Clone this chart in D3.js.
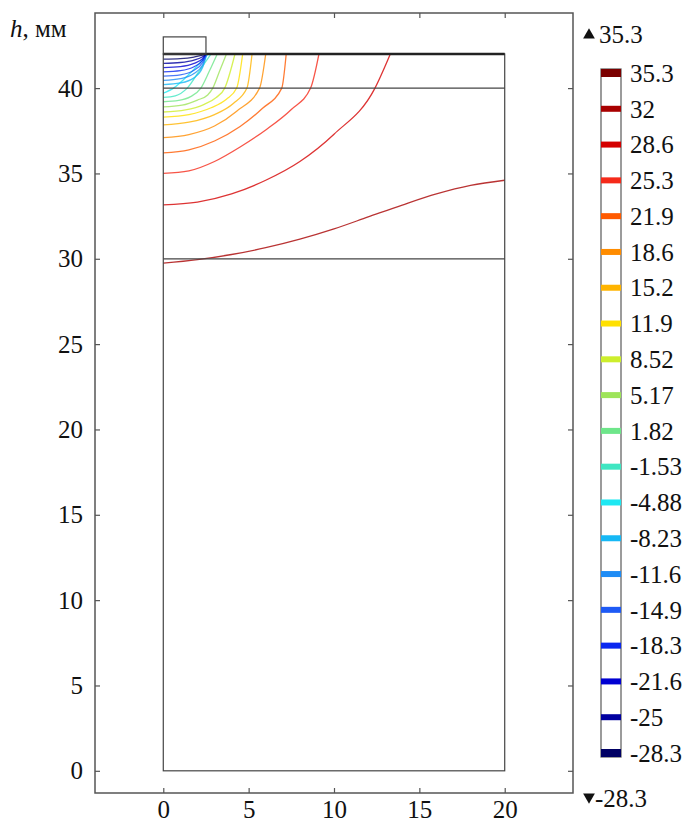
<!DOCTYPE html>
<html>
<head>
<meta charset="utf-8">
<script src="https://cdn.jsdelivr.net/npm/d3@7"></script>
<style>
  body { margin: 0; background: #fff; }
  svg { display: block; }
  svg text { font-family: 'Liberation Serif', 'Times New Roman', Times, 'DejaVu Serif', serif; fill: #111; }
</style>
</head>
<body>
<svg id="chart" width="692" height="826"></svg>
<script>
// contour levels shown in the legend (top to bottom)
const levels = [35.3, 32, 28.6, 25.3, 21.9, 18.6, 15.2, 11.9, 8.52, 5.17, 1.82,
                -1.53, -4.88, -8.23, -11.6, -14.9, -18.3, -21.6, -25, -28.3];
const levelColors = ['#7a0000', '#a80000', '#d40000', '#f52a1a', '#ff5a00', '#ff8c00',
                     '#ffb400', '#ffe000', '#cdee2c', '#9ee45a', '#6ee68a', '#3fe6c2',
                     '#1ee8f2', '#16b8f5', '#1e8cf5', '#1e5af5', '#0a28f0', '#0000d2',
                     '#0000a0', '#000064'];
const xTicks = [0, 5, 10, 15, 20];
const yTicks = [0, 5, 10, 15, 20, 25, 30, 35, 40];

// model geometry (mm)
const layerTops = [30, 40];
const domainW = 20, domainH = 42;
const electrode = [0, 2.5, 42, 43];

// contour lines: [x, h] in mm
const contourLines = [
  {level: 32,    pts: [[0,29.74],[2,29.95],[4,30.25],[6,30.65],[8,31.15],[10,31.75],[12,32.45],[14,33.15],[16,33.8],[18,34.3],[20,34.6]]},
  {level: 28.6,  pts: [[0,33.16],[2,33.32],[4,33.8],[6,34.6],[8,35.7],[10,37.3],[12.4,40],[13.3,42]]},
  {level: 25.3,  pts: [[0,35.0],[1.5,35.15],[3,35.7],[4.5,36.55],[6,37.55],[7.5,38.75],[8.63,40],[9.12,42]]},
  {level: 21.9,  pts: [[0,36.2],[1.5,36.38],[3,36.9],[4.5,37.75],[5.8,38.8],[6.94,40],[7.2,42]]},
  {level: 18.6,  pts: [[0,37.1],[1.5,37.28],[3,37.78],[4.3,38.65],[5.64,40],[6.0,42]]},
  {level: 15.2,  pts: [[0,37.84],[1.5,38.0],[3,38.45],[4.1,39.1],[4.9,40],[5.2,42]]},
  {level: 11.9,  pts: [[0,38.3],[1.5,38.45],[2.8,38.85],[3.7,39.35],[4.3,40],[4.65,42]]},
  {level: 8.52,  pts: [[0,38.6],[1.3,38.72],[2.4,39.05],[3.1,39.45],[3.6,40],[4.2,42]]},
  {level: 5.17,  pts: [[0,38.9],[1.1,39.0],[2.0,39.3],[2.6,39.6],[2.9,40],[3.3,41],[3.7,42]]},
  {level: 1.82,  pts: [[0,39.2],[0.9,39.28],[1.6,39.5],[2.2,40],[2.7,41],[3.16,42]]},
  {level: -1.53, pts: [[0,39.46],[0.7,39.55],[1.4,40],[2.1,41],[2.8,42]]},
  {level: -4.88, pts: [[0,39.7],[0.6,40],[1.6,40.9],[2.62,42]]},
  {level: -8.23, pts: [[0,40.2],[1.0,40.3],[1.8,40.6],[2.3,41.2],[2.55,42]]},
  {level: -11.6, pts: [[0,40.45],[1.0,40.55],[1.8,40.85],[2.3,41.35],[2.53,42]]},
  {level: -14.9, pts: [[0,40.7],[1.0,40.78],[1.8,41.05],[2.3,41.5],[2.52,42]]},
  {level: -18.3, pts: [[0,40.95],[1.0,41.02],[1.8,41.25],[2.3,41.62],[2.51,42]]},
  {level: -21.6, pts: [[0,41.2],[1.0,41.26],[1.8,41.45],[2.3,41.73],[2.5,42]]},
  {level: -25,   pts: [[0,41.45],[1.0,41.5],[1.8,41.64],[2.3,41.84],[2.5,42]]},
  {level: -28.3, pts: [[0,41.7],[1.0,41.73],[1.8,41.82],[2.3,41.93],[2.5,42]]}
];

const svg = d3.select('#chart');
const x = d3.scaleLinear().domain([-4, 24]).range([95, 573]);
const y = d3.scaleLinear().domain([-1.3, 44.4]).range([793, 13]);
const color = d3.scaleOrdinal().domain(levels).range(levelColors);
const fs = 25;

// contours
const line = d3.line().x(d => x(d[0])).y(d => y(d[1])).curve(d3.curveMonotoneX);
svg.append('g').selectAll('path')
  .data(contourLines)
  .enter().append('path')
  .attr('d', d => line(d.pts))
  .attr('fill', 'none')
  .attr('stroke', d => color(d.level))
  .attr('stroke-width', 1.3)
  .attr('stroke-opacity', 0.8);

// geometry
const geo = svg.append('g').attr('fill', 'none').attr('stroke', '#444');
geo.append('rect')
  .attr('x', x(0)).attr('y', y(domainH))
  .attr('width', x(domainW) - x(0)).attr('height', y(0) - y(domainH))
  .attr('stroke-width', 1.2);
geo.selectAll('line.layer')
  .data(layerTops)
  .enter().append('line')
  .attr('class', 'layer')
  .attr('x1', x(0)).attr('x2', x(domainW))
  .attr('y1', d => y(d)).attr('y2', d => y(d))
  .attr('stroke-width', 1.2);
geo.append('line')
  .attr('x1', x(0)).attr('x2', x(domainW))
  .attr('y1', y(domainH)).attr('y2', y(domainH))
  .attr('stroke', '#222').attr('stroke-width', 2.4);
geo.append('rect')
  .attr('x', x(electrode[0])).attr('y', y(electrode[3]))
  .attr('width', x(electrode[1]) - x(electrode[0]))
  .attr('height', y(electrode[2]) - y(electrode[3]))
  .attr('stroke-width', 1.2);

// axes box with inward ticks on all sides
const x0 = x.range()[0], x1 = x.range()[1], y0 = y.range()[0], y1 = y.range()[1];
svg.append('rect')
  .attr('x', x0).attr('y', y1).attr('width', x1 - x0).attr('height', y0 - y1)
  .attr('fill', 'none').attr('stroke', '#555').attr('stroke-width', 1.5);

const gx = svg.append('g').attr('transform', `translate(0,${y0})`)
  .call(d3.axisBottom(x).tickValues(xTicks).tickSize(-5).tickPadding(5).tickFormat(d3.format('d')));
svg.append('g').attr('transform', `translate(0,${y1})`)
  .call(d3.axisTop(x).tickValues(xTicks).tickSize(-5).tickFormat(''));
svg.append('g').attr('transform', `translate(${x0},0)`)
  .call(d3.axisLeft(y).tickValues(yTicks).tickSize(-5).tickPadding(12).tickFormat(d3.format('d')));
svg.append('g').attr('transform', `translate(${x1},0)`)
  .call(d3.axisRight(y).tickValues(yTicks).tickSize(-5).tickFormat(''));

svg.selectAll('.domain').remove();
svg.selectAll('g').attr('font-family', null);
svg.selectAll('.tick line').attr('stroke', '#555').attr('stroke-width', 1.2);
svg.selectAll('.tick text').attr('font-size', fs).attr('fill', '#111');
gx.selectAll('.tick text').attr('dy', '0.78em');

// axis title
const title = svg.append('text').attr('x', 10).attr('y', 37).attr('font-size', fs);
title.append('tspan').attr('font-style', 'italic').text('h');
title.append('tspan').text(', мм');

// legend
const legY = d3.scalePoint().domain(levels).range([73, 753]);
const leg = svg.append('g');
leg.append('rect')
  .attr('x', 601).attr('y', 69).attr('width', 20).attr('height', 688)
  .attr('fill', 'none').attr('stroke', '#666').attr('stroke-width', 1.3);
leg.selectAll('rect.sw')
  .data(levels)
  .enter().append('rect')
  .attr('class', 'sw')
  .attr('x', 601).attr('width', 20)
  .attr('y', (d, i) => legY(d) - (i === 0 || i === levels.length - 1 ? 4 : 3))
  .attr('height', (d, i) => (i === 0 || i === levels.length - 1 ? 8 : 6))
  .attr('fill', d => color(d));
leg.selectAll('text.lab')
  .data(levels)
  .enter().append('text')
  .attr('class', 'lab')
  .attr('x', 630).attr('y', d => legY(d))
  .attr('dy', '0.35em')
  .attr('font-size', fs)
  .text(d => d);

const maxV = d3.max(levels), minV = d3.min(levels);
leg.append('path')
  .attr('d', d3.symbol(d3.symbolTriangle, 60)())
  .attr('transform', 'translate(589,35)').attr('fill', '#111');
leg.append('text').attr('x', 599).attr('y', 34).attr('dy', '0.35em')
  .attr('font-size', fs).text(maxV);
leg.append('path')
  .attr('d', d3.symbol(d3.symbolTriangle, 60)())
  .attr('transform', 'translate(589,797) rotate(180)').attr('fill', '#111');
leg.append('text').attr('x', 595).attr('y', 798).attr('dy', '0.35em')
  .attr('font-size', fs).text(minV);
</script>
</body>
</html>
